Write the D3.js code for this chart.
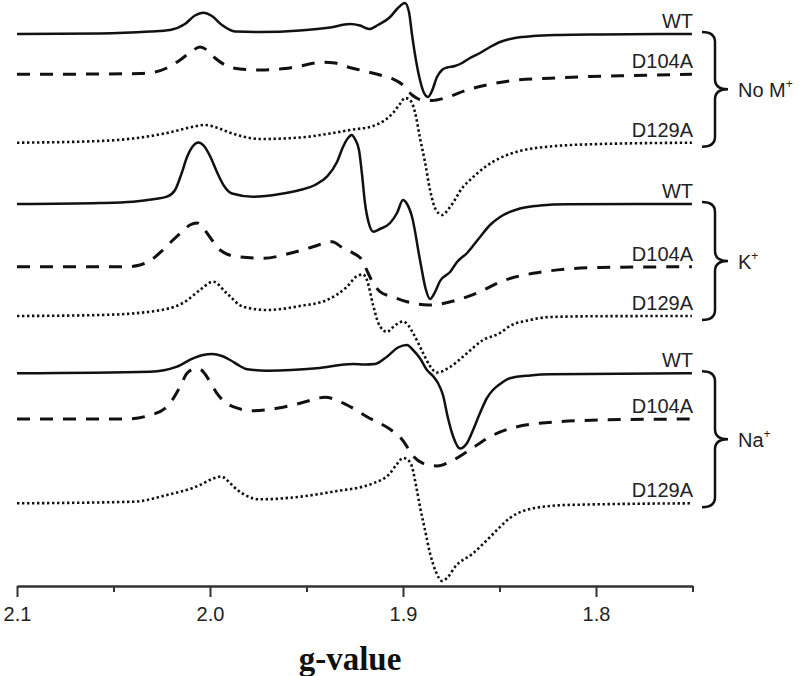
<!DOCTYPE html>
<html>
<head>
<meta charset="utf-8">
<script src="https://cdn.jsdelivr.net/npm/d3@7"></script>
<style>
  body { margin: 0; background: #fff; }
  .axis path, .axis line { stroke: #333; stroke-width: 2px; }
  .axis text { font-family: "Liberation Sans", Arial, sans-serif; font-size: 20px; fill: #222; }
  .lab { font-family: "Liberation Sans", Arial, sans-serif; font-size: 20px; fill: #222; }
  .title { font-family: "Liberation Serif", "Times New Roman", serif; font-size: 33px; font-weight: bold; fill: #111; }
</style>
</head>
<body>
<div id="root"></div>
<script>
// EPR spectra, signal in arbitrary units (stacked, offset included), x = g-value
const noM_WT = [[2.1000,552],[2.0570,552.5],[2.0311,554.5],[2.0207,556],[2.0130,562],[2.0078,570.5],[2.0036,573.3],[1.9990,570],[1.9938,561],[1.9870,554.5],[1.9741,554],[1.9534,555.5],[1.9378,558.5],[1.9275,562],[1.9223,560.5],[1.9176,557],[1.9130,561],[1.9067,569],[1.9026,578],[1.8990,583],[1.8969,574],[1.8953,551],[1.8933,526],[1.8912,506],[1.8891,493],[1.8870,489],[1.8850,495],[1.8824,509],[1.8798,516],[1.8772,518.5],[1.8731,520],[1.8694,523],[1.8653,528],[1.8601,533],[1.8549,539],[1.8497,544],[1.8420,548],[1.8326,550],[1.8187,551],[1.7979,551.5],[1.7503,552]];
const noM_D104A = [[2.1000,511.7],[2.0570,512],[2.0363,512.5],[2.0285,514],[2.0223,518],[2.0155,526],[2.0093,535],[2.0052,539],[2.0016,536],[1.9974,528],[1.9922,521],[1.9845,517],[1.9741,516],[1.9611,517.5],[1.9534,520],[1.9420,523.7],[1.9352,523],[1.9290,519.3],[1.9187,514.3],[1.9119,511],[1.9052,507],[1.9000,501],[1.8953,491],[1.8902,486],[1.8850,485.5],[1.8782,488],[1.8668,496],[1.8565,501],[1.8409,506],[1.8238,507.7],[1.8031,509.5],[1.7808,510.5],[1.7503,511.7]];
const noM_D129A = [[2.1000,443.3],[2.0570,445],[2.0399,447.5],[2.0223,453],[2.0104,458.5],[2.0026,461],[1.9959,458],[1.9896,453.3],[1.9819,449],[1.9741,447],[1.9534,448.5],[1.9378,452.5],[1.9275,456],[1.9155,460],[1.9093,466],[1.9052,473],[1.9016,482],[1.8990,488],[1.8964,486],[1.8938,474],[1.8912,448],[1.8886,424],[1.8860,396],[1.8829,376],[1.8798,371],[1.8756,379],[1.8689,399],[1.8653,406],[1.8575,419],[1.8497,428],[1.8394,435],[1.8238,439.5],[1.7979,442],[1.7503,443.3]];

const K_WT = [[2.1000,382],[2.0570,383],[2.0399,384.3],[2.0285,387],[2.0223,389.3],[2.0181,396],[2.0150,411],[2.0119,429],[2.0088,440],[2.0060,443.5],[2.0031,440],[2.0000,430],[1.9964,414],[1.9927,400],[1.9886,392.5],[1.9777,389.3],[1.9637,392],[1.9534,396],[1.9456,401],[1.9394,409.3],[1.9342,424],[1.9311,439],[1.9285,448],[1.9266,451],[1.9249,447],[1.9228,436],[1.9212,411],[1.9197,383],[1.9176,362],[1.9154,354.3],[1.9119,357],[1.9067,363],[1.9031,373],[1.9000,386],[1.8979,382],[1.8953,369],[1.8912,326],[1.8881,296],[1.8860,287],[1.8834,294],[1.8808,305],[1.8756,314],[1.8720,324],[1.8668,333],[1.8601,349],[1.8549,361],[1.8497,369],[1.8394,377.5],[1.8290,380.5],[1.8150,381.7],[1.7503,382]];
const K_D104A = [[2.1000,319.3],[2.0430,319.3],[2.0363,321],[2.0311,325.3],[2.0244,336],[2.0197,345],[2.0145,354.3],[2.0104,361],[2.0067,363],[2.0036,358],[1.9990,346],[1.9948,336],[1.9860,329.3],[1.9725,327.7],[1.9585,332.7],[1.9466,339.3],[1.9368,344.3],[1.9311,338],[1.9259,333],[1.9212,326],[1.9181,313],[1.9155,303],[1.9119,294.3],[1.9052,289],[1.8979,284.3],[1.8870,281],[1.8824,281.5],[1.8720,286],[1.8601,294.3],[1.8497,304],[1.8326,312.7],[1.7979,318.5],[1.7503,319.3]];
const K_D129A = [[2.1000,270],[2.0570,271],[2.0311,274.3],[2.0140,283],[2.0052,296],[1.9984,304.3],[1.9913,292.7],[1.9829,279.3],[1.9705,276],[1.9534,280],[1.9394,286],[1.9290,299.3],[1.9238,310],[1.9207,311.5],[1.9187,306],[1.9155,281],[1.9130,264],[1.9104,256],[1.9083,254],[1.9057,258],[1.9031,262],[1.9000,264.5],[1.8974,261],[1.8948,253],[1.8896,233],[1.8860,220],[1.8824,213.5],[1.8756,219],[1.8679,231],[1.8585,246],[1.8497,253],[1.8446,260],[1.8342,266],[1.8238,269],[1.7979,269.8],[1.7503,270]];

const Na_WT = [[2.1000,212.7],[2.0311,214.3],[2.0171,219.3],[2.0088,227.7],[2.0036,231],[1.9990,232],[1.9938,230],[1.9896,226],[1.9845,220],[1.9808,216.7],[1.9705,215.3],[1.9446,217.7],[1.9259,222],[1.9197,221.5],[1.9145,222],[1.9083,229.3],[1.9026,238.5],[1.8979,241],[1.8948,236],[1.8912,227.7],[1.8876,216],[1.8845,210],[1.8819,203],[1.8793,191],[1.8767,168],[1.8741,150],[1.8705,137.5],[1.8668,143],[1.8637,156],[1.8601,173],[1.8565,188],[1.8534,196],[1.8497,202],[1.8446,207.7],[1.8342,210.5],[1.8238,211.7],[1.7503,212.7]];
const Na_D104A = [[2.1000,167],[2.0430,167],[2.0326,170],[2.0223,179.3],[2.0155,199.3],[2.0119,212.7],[2.0078,217],[2.0052,216.7],[2.0026,212],[2.0000,204.3],[1.9964,192.7],[1.9881,179.3],[1.9777,175.3],[1.9653,177.7],[1.9534,182.7],[1.9404,188.7],[1.9290,181],[1.9187,169.3],[1.9067,156.7],[1.9016,149],[1.8979,139.3],[1.8964,134.3],[1.8896,122.7],[1.8824,120],[1.8756,124.3],[1.8668,134.3],[1.8549,149.3],[1.8326,162],[1.7979,166],[1.7503,167]];
const Na_D129A = [[2.1000,82.7],[2.0399,84.3],[2.0223,91],[2.0052,101],[1.9990,107],[1.9943,109.5],[1.9907,105],[1.9876,99],[1.9819,91],[1.9741,86.7],[1.9534,89.3],[1.9363,94.3],[1.9155,102.7],[1.9067,112.7],[1.9031,122],[1.9000,128],[1.8974,126],[1.8953,119],[1.8933,101],[1.8912,79.3],[1.8886,56],[1.8860,32.7],[1.8829,14],[1.8798,5],[1.8767,9],[1.8731,19],[1.8637,32.7],[1.8575,44],[1.8513,56],[1.8446,68],[1.8326,77.7],[1.8150,81],[1.7503,82.7]];

const mutants = ['WT', 'D104A', 'D129A'];
const groups = [
  {name: 'No M', traces: [noM_WT, noM_D104A, noM_D129A]},
  {name: 'K', traces: [K_WT, K_D104A, K_D129A]},
  {name: 'Na', traces: [Na_WT, Na_D104A, Na_D129A]}
];
const majorTicks = [2.1, 2.0, 1.9, 1.8];
const minorTicks = [2.05, 1.95, 1.85, 1.75];
const gDomain = [2.1, 1.75];
const signalDomain = [0, 586];

const margin = {top: 0, right: 108, bottom: 90, left: 17},
    width = 800 - margin.left - margin.right,
    height = 676 - margin.top - margin.bottom;

const styles = {
  WT: {width: 2.5, dash: null},
  D104A: {width: 3, dash: '13,10'},
  D129A: {width: 2.6, dash: '2.4,2.6'}
};

const svg = d3.select('#root').append('svg')
    .attr('width', 800)
    .attr('height', 676)
    .append('g')
    .attr('transform', 'translate(' + margin.left + ',' + margin.top + ')');

const xScale = d3.scaleLinear().domain(gDomain).range([0, 675.5]);
const yScale = d3.scaleLinear().domain(signalDomain).range([height, 0]);

const line = d3.line()
    .x(d => xScale(d[0]))
    .y(d => yScale(d[1]))
    .curve(d3.curveMonotoneX);

// axis
svg.append('g')
    .attr('class', 'axis')
    .attr('transform', 'translate(0,' + height + ')')
    .call(d3.axisBottom(xScale).tickValues(minorTicks).tickSize(6).tickSizeOuter(0).tickFormat(''));

svg.append('g')
    .attr('class', 'axis')
    .attr('transform', 'translate(0,' + height + ')')
    .call(d3.axisBottom(xScale).tickValues(majorTicks).tickSize(11).tickPadding(10).tickSizeOuter(0).tickFormat(d3.format('.1f')));

svg.append('text')
    .attr('class', 'title')
    .attr('x', 333)
    .attr('y', 670)
    .attr('text-anchor', 'middle')
    .text('g-value');

// spectra
groups.forEach(grp => {
  grp.traces.forEach((tr, i) => {
    const st = styles[mutants[i]];
    svg.append('path')
        .datum(tr)
        .attr('d', line)
        .attr('fill', 'none')
        .attr('stroke', '#111')
        .attr('stroke-width', st.width)
        .attr('stroke-dasharray', st.dash);

    const base = yScale(tr[tr.length - 1][1]);
    svg.append('text')
        .attr('class', 'lab')
        .attr('x', 676)
        .attr('y', base - 6)
        .attr('text-anchor', 'end')
        .text(mutants[i]);
  });

  // brace
  const top = yScale(grp.traces[0][grp.traces[0].length - 1][1]) - 2,
      bot = yScale(grp.traces[2][grp.traces[2].length - 1][1]) + 4,
      mid = (top + bot) / 2,
      x0 = 685, xm = 698, xt = 711, r = 10;
  svg.append('path')
      .attr('d', `M${x0},${top} Q${xm},${top} ${xm},${top + r} L${xm},${mid - r} Q${xm},${mid} ${xt},${mid}
                  Q${xm},${mid} ${xm},${mid + r} L${xm},${bot - r} Q${xm},${bot} ${x0},${bot}`)
      .attr('fill', 'none')
      .attr('stroke', '#111')
      .attr('stroke-width', 2.5);

  const t = svg.append('text')
      .attr('class', 'lab')
      .attr('x', 721)
      .attr('y', mid + 8)
      .text(grp.name);
  t.append('tspan')
      .attr('font-size', '12px')
      .attr('dy', -9)
      .text('+');
});
</script>
</body>
</html>
